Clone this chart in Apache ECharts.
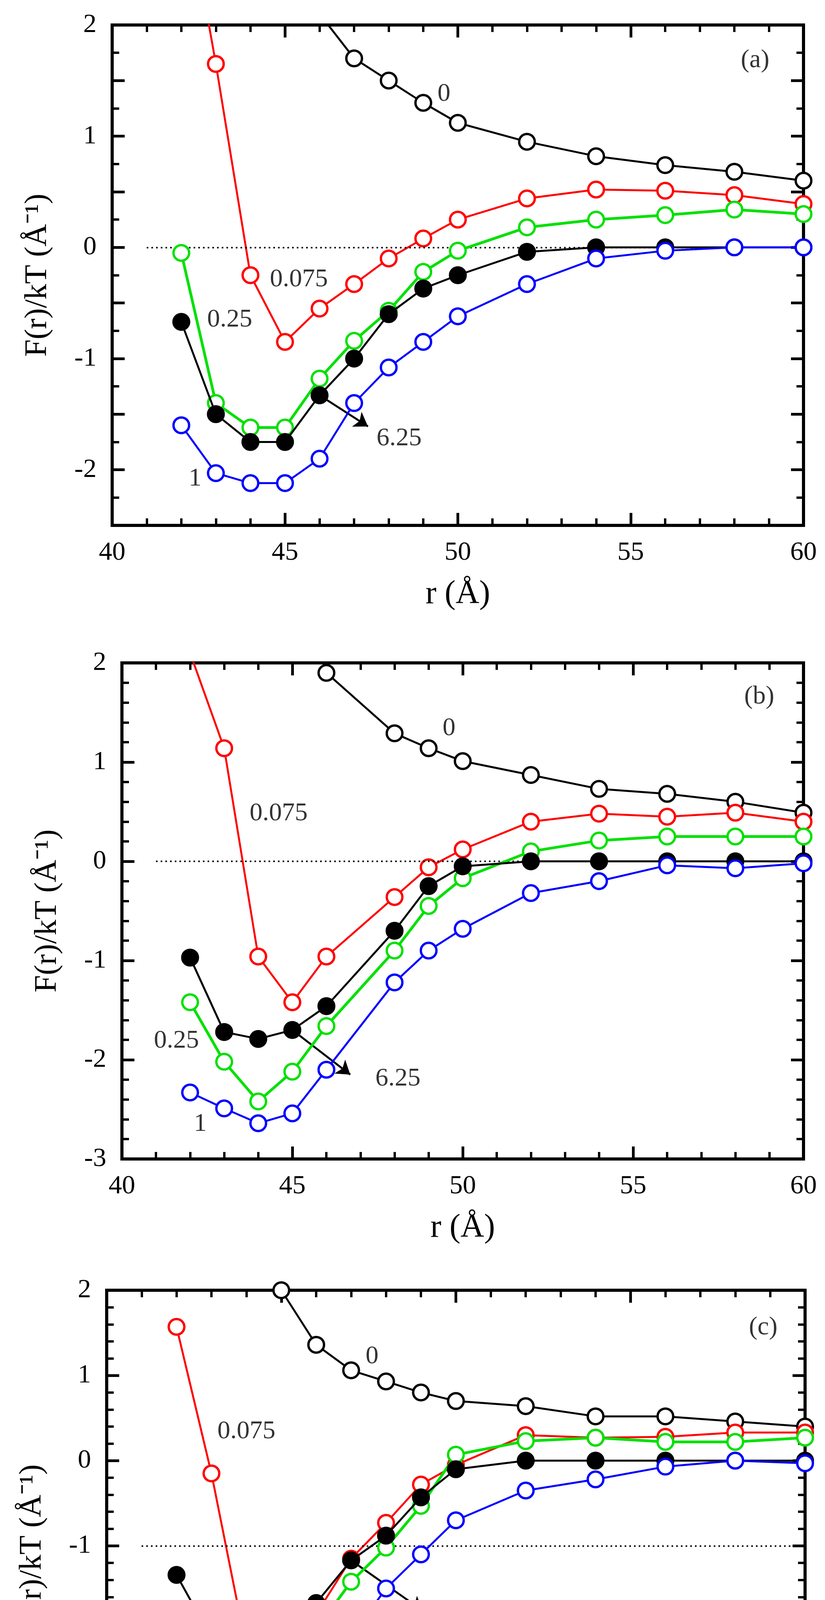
<!DOCTYPE html>
<html>
<head>
<meta charset="UTF-8">
<title>F(r)/kT</title>
<script src="https://cdn.jsdelivr.net/npm/echarts@6/dist/echarts.min.js"></script>
<style>html,body{margin:0;background:#fff}#main{width:2111px;height:4871px}</style>
</head>
<body>
<div id="main"></div>
<script>
// data per panel: x positions and F(r)/kT for each concentration
var xA = [42,43,44,45,46,47,48,49,50,52,54,56,58,60];
var a_c0    = [null,null,null,null,2.1,1.7,1.5,1.3,1.12,0.95,0.82,0.74,0.68,0.6];
var a_c075  = [3.4,1.65,-0.25,-0.85,-0.55,-0.33,-0.1,0.08,0.25,0.44,0.52,0.51,0.47,0.39];
var a_c25   = [-0.05,-1.4,-1.62,-1.62,-1.18,-0.84,-0.57,-0.22,-0.03,0.18,0.25,0.29,0.34,0.3];
var a_c625  = [-0.67,-1.5,-1.75,-1.75,-1.33,-1.0,-0.6,-0.37,-0.25,-0.04,0,0,0,0];
var a_c1    = [-1.6,-2.03,-2.12,-2.12,-1.9,-1.4,-1.08,-0.85,-0.62,-0.33,-0.1,-0.03,0,0];

var xB = [42,43,44,45,46,48,49,50,52,54,56,58,60];
var b_c0    = [null,null,null,null,1.9,1.29,1.14,1.01,0.87,0.73,0.68,0.6,0.49];
var b_c075  = [2.1,1.14,-0.96,-1.42,-0.96,-0.36,-0.06,0.12,0.4,0.48,0.45,0.49,0.4];
var b_c25   = [-1.42,-2.02,-2.42,-2.12,-1.66,-0.9,-0.45,-0.17,0.1,0.21,0.25,0.25,0.25];
var b_c625  = [-0.97,-1.72,-1.79,-1.7,-1.46,-0.7,-0.25,-0.05,0,0,0,0,0];
var b_c1    = [-2.33,-2.49,-2.64,-2.54,-2.1,-1.22,-0.9,-0.68,-0.32,-0.2,-0.04,-0.07,-0.02];

var xC = [42,43,44,45,46,47,48,49,50,52,54,56,58,60];
var c_c0    = [null,null,null,2.0,1.36,1.06,0.93,0.8,0.7,0.64,0.52,0.52,0.46,0.4];
var c_c075  = [1.57,-0.15,-2.2,-2.16,-1.8,-1.15,-0.73,-0.28,-0.05,0.3,0.27,0.28,0.33,0.33];
var c_c25   = [-1.98,-2.7,-3.4,-2.9,-1.98,-1.42,-1.02,-0.53,0.07,0.23,0.27,0.22,0.22,0.27];
var c_c625  = [-1.34,-2.08,-2.27,-2.0,-1.67,-1.17,-0.88,-0.43,-0.1,0,0,0,0,0];
var c_c1    = [-3.4,-3.7,-3.87,-3.25,-2.6,-2.06,-1.5,-1.1,-0.7,-0.35,-0.22,-0.07,0,-0.03];

// panel labels [text, x, y]
var labelsA = [["0",49.6,1.38],["0.075",45.4,-0.29],["0.25",43.4,-0.65],["1",42.4,-2.08],["6.25",48.3,-1.72],["(a)",58.6,1.68]];
var labelsB = [["0",49.6,1.34],["0.075",44.6,0.48],["0.25",41.6,-1.81],["1",42.3,-2.65],["6.25",48.1,-2.19],["(b)",58.7,1.66]];
var labelsC = [["0",47.6,1.22],["0.075",44.0,0.34],["0.25",43.9,-2.8],["1",45.45,-3.41],["6.25",50.2,-1.98],["(c)",58.8,1.56]];
var arrowA = [[46,-1.33],[47.4,-1.61]];
var arrowB = [[45,-1.7],[46.7,-2.15]];
var arrowC = [[47,-1.17],[49.05,-1.76]];
var refA = 0, refB = 0, refC = -1;

var panels = [
  {x:xA, s:[a_c0,a_c075,a_c25,a_c625,a_c1], labels:labelsA, arrow:arrowA, ref:refA, ymin:-2.5, ymax:2, yint:0.5, grid:{left:287,top:64,right:55,height:1281}},
  {x:xB, s:[b_c0,b_c075,b_c25,b_c625,b_c1], labels:labelsB, arrow:arrowB, ref:refB, ymin:-3, ymax:2, yint:1, grid:{left:312,top:1697,right:55,height:1270}},
  {x:xC, s:[c_c0,c_c075,c_c25,c_c625,c_c1], labels:labelsC, arrow:arrowC, ref:refC, ymin:-4, ymax:2, yint:1, grid:{left:273,top:3303,right:51,height:1309}}
];

var font = "Liberation Serif";
var styles = [
  {color:"#000", fill:"#fff", w:5},
  {color:"#ff0000", fill:"#fff", w:5},
  {color:"#00e000", fill:"#fff", w:7},
  {color:"#000", fill:"#000", w:5},
  {color:"#0000ff", fill:"#fff", w:5}
];

function intOnly(v){ return Math.abs(v - Math.round(v)) < 1e-6 ? String(Math.round(v)) : ""; }

var grid = [], xAxis = [], yAxis = [], series = [];
panels.forEach(function(p, i){
  grid.push(Object.assign({show:true, borderColor:"#000", borderWidth:8}, p.grid));
  var tick = {show:true, inside:true, length:32, lineStyle:{width:7,color:"#000"}};
  [false,true].forEach(function(mirror){
    xAxis.push({type:"value", gridIndex:i, min:40, max:60, interval:5, position:mirror?"top":"bottom",
      name: mirror?"":"r (Å)", nameLocation:"middle", nameGap:135,
      nameTextStyle:{fontFamily:font, fontSize:84, color:"#000"},
      axisLine:{show:false, onZero:false}, axisTick:tick,
      minorTick:{show:true, splitNumber:5, length:18, lineStyle:{width:6,color:"#000"}},
      splitLine:{show:false},
      axisLabel:{show:!mirror, fontFamily:font, fontSize:68, color:"#000", margin:36}});
    yAxis.push({type:"value", gridIndex:i, min:p.ymin, max:p.ymax, interval:p.yint, position:mirror?"right":"left",
      name: mirror?"":"F(r)/kT (Å⁻¹)", nameLocation:"middle", nameGap:150,
      nameTextStyle:{fontFamily:font, fontSize:80, color:"#000"},
      axisLine:{show:false, onZero:false}, axisTick:tick,
      minorTick:{show:true, splitNumber:p.yint===1?5:2, length:18, lineStyle:{width:6,color:"#000"}},
      splitLine:{show:false},
      axisLabel:{show:!mirror, formatter:intOnly, fontFamily:font, fontSize:68, color:"#000", margin:40}});
  });
  var xi = i*2, yi = i*2;
  // reference dotted line
  series.push({type:"line", xAxisIndex:xi, yAxisIndex:yi, data:[], silent:true,
    markLine:{silent:true, symbol:["none","none"], label:{show:false},
      lineStyle:{type:[4,8], color:"#000", width:4},
      data:[[{coord:[41,p.ref]},{coord:[59.6,p.ref]}]]}});
  p.s.forEach(function(vals, k){
    var st = styles[k];
    series.push({type:"line", xAxisIndex:xi, yAxisIndex:yi, clip:true, z:3+k,
      data:p.x.map(function(x,j){ return vals[j]==null?null:[x,vals[j]]; }),
      symbol:"circle", symbolSize:40, showAllSymbol:true,
      lineStyle:{color:st.color, width:st.w},
      itemStyle:{color:st.fill, borderColor:st.color, borderWidth:6}});
  });
  // arrow pointing to the 6.25 curve label
  series.push({type:"line", xAxisIndex:xi, yAxisIndex:yi, data:[], silent:true, z:9,
    markLine:{silent:true, symbol:["none","arrow"], symbolSize:34, label:{show:false},
      lineStyle:{type:"solid", color:"#000", width:5},
      data:[[{coord:p.arrow[0]},{coord:p.arrow[1]}]]}});
  series.push({type:"scatter", xAxisIndex:xi, yAxisIndex:yi, symbolSize:0, z:10, silent:true,
    data:p.labels.map(function(l){ return {name:l[0], value:[l[1],l[2]]}; }),
    label:{show:true, position:"inside", formatter:"{b}", fontFamily:font, fontSize:66, color:"#000"}});
});

var chart = echarts.init(document.getElementById("main"));
chart.setOption({animation:false, backgroundColor:"#fff", grid:grid, xAxis:xAxis, yAxis:yAxis, series:series});
</script>
</body>
</html>
